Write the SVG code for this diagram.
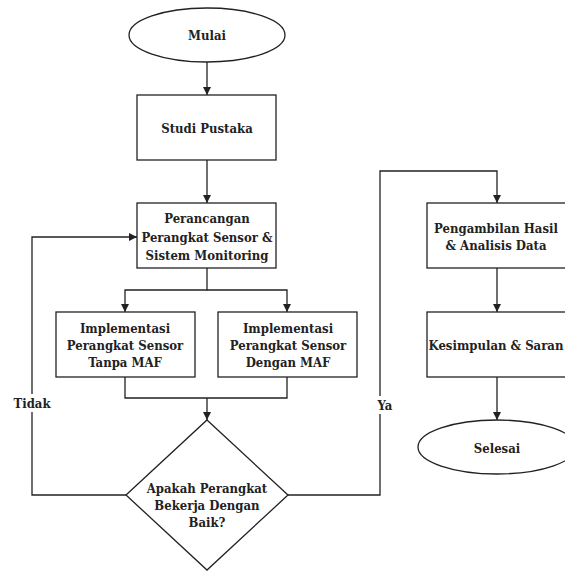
<svg xmlns="http://www.w3.org/2000/svg" width="565" height="571" viewBox="0 0 565 571">
<style>
.s{fill:#fff;stroke:#222;stroke-width:1.3}
.c{fill:none;stroke:#222;stroke-width:1.3}
text{font-family:'DejaVu Serif Condensed','DejaVu Serif',serif;font-stretch:condensed;font-weight:bold;font-size:13px;fill:#222;text-anchor:middle;dominant-baseline:central}
.lbl{fill:#fff;stroke:none}
</style>
<defs>
<marker id="a" viewBox="0 0 10 10" refX="10" refY="5" markerWidth="8" markerHeight="8" markerUnits="userSpaceOnUse" orient="auto">
<path d="M0,0 L10,5 L0,10 Z" fill="#222"/>
</marker>
</defs>
<rect width="565" height="571" fill="#fff"/>
<g id="connectors">
<path class="c" d="M207,62 V95" marker-end="url(#a)"/>
<path class="c" d="M207,160 V203" marker-end="url(#a)"/>
<path class="c" d="M207,268 V290 H125 V312" marker-end="url(#a)"/>
<path class="c" d="M207,290 H287 V312" marker-end="url(#a)"/>
<path class="c" d="M125,377 V398 H287 V377"/>
<path class="c" d="M207,398 V420" marker-end="url(#a)"/>
<path class="c" d="M126,495 H32 V237 H137" marker-end="url(#a)"/>
<path class="c" d="M288,495 H380 V171 H497 V203" marker-end="url(#a)"/>
<path class="c" d="M497,268 V312" marker-end="url(#a)"/>
<path class="c" d="M497,377 V420" marker-end="url(#a)"/>
<rect class="lbl" x="10" y="394" width="44" height="18"/>
<text x="32" y="403">Tidak</text>
<rect class="lbl" x="374" y="396" width="21" height="18"/>
<text x="385" y="405">Ya</text>
</g>
<g id="mulai">
<ellipse class="s" cx="207" cy="35" rx="78" ry="27"/>
<text x="207" y="35">Mulai</text>
</g>
<g id="studi">
<rect class="s" x="137" y="95" width="139" height="65"/>
<text x="207" y="128">Studi Pustaka</text>
</g>
<g id="perancangan">
<rect class="s" x="137" y="203" width="139" height="65"/>
<text x="207" y="218">Perancangan</text>
<text x="207" y="237">Perangkat Sensor &amp;</text>
<text x="207" y="255">Sistem Monitoring</text>
</g>
<g id="impl1">
<rect class="s" x="56" y="312" width="139" height="65"/>
<text x="125" y="328">Implementasi</text>
<text x="125" y="345">Perangkat Sensor</text>
<text x="125" y="362">Tanpa MAF</text>
</g>
<g id="impl2">
<rect class="s" x="218" y="312" width="139" height="65"/>
<text x="288" y="328">Implementasi</text>
<text x="288" y="345">Perangkat Sensor</text>
<text x="288" y="362">Dengan MAF</text>
</g>
<g id="keputusan">
<polygon class="s" points="207,420 288,495 207,570 126,495"/>
<text x="207" y="488">Apakah Perangkat</text>
<text x="207" y="505">Bekerja Dengan</text>
<text x="207" y="522">Baik?</text>
</g>
<g id="pengambilan">
<rect class="s" x="427" y="203" width="140" height="65"/>
<text x="496" y="228">Pengambilan Hasil</text>
<text x="496" y="245">&amp; Analisis Data</text>
</g>
<g id="kesimpulan">
<rect class="s" x="427" y="312" width="140" height="65"/>
<text x="496" y="345">Kesimpulan &amp; Saran</text>
</g>
<g id="selesai">
<ellipse class="s" cx="497" cy="447" rx="79" ry="27"/>
<text x="497" y="448">Selesai</text>
</g>
</svg>
